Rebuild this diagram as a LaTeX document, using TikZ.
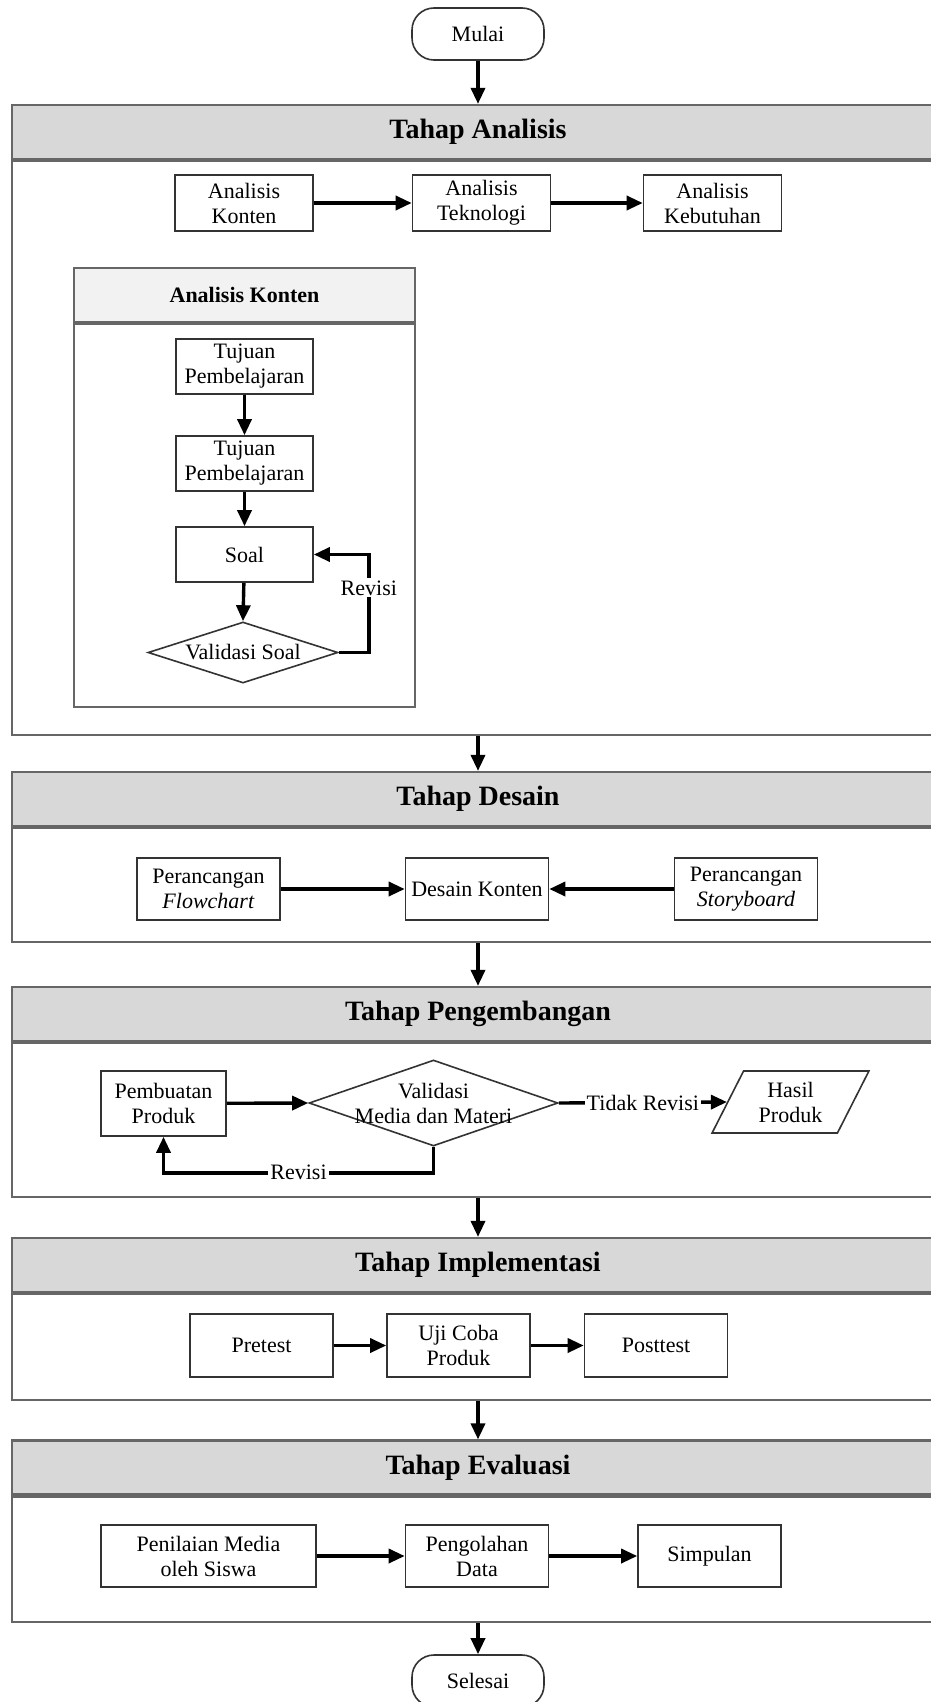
\documentclass[tikz,border=0pt]{standalone}
\usepackage{fontspec}
\setmainfont{Liberation Serif}
\usetikzlibrary{positioning,arrows.meta,shapes.geometric}
\definecolor{bingkai}{HTML}{666666}
\definecolor{judul}{HTML}{D8D8D8}
\definecolor{subjudul}{HTML}{F2F2F2}

\begin{document}
\begin{tikzpicture}[x=0.5pt,y=-0.5pt,font=\fontsize{11}{12.5}\selectfont,
  kotak/.style={draw=black!80,line width=0.8pt,fill=white,align=center,minimum width=69pt,minimum height=28pt,inner sep=1pt},
  ujung/.style={draw=black!80,line width=0.8pt,fill=white,rounded corners=11pt,minimum width=66pt,minimum height=26pt},
  belah/.style={diamond,draw=black!80,line width=0.8pt,fill=white,inner sep=0pt},
  hdr/.style={draw=bingkai,line width=1.1pt,fill=judul,minimum width=466pt,minimum height=27pt,font=\fontsize{14}{16}\selectfont\bfseries},
  badan/.style={draw=bingkai,line width=1.1pt,minimum width=466pt,anchor=north},
  ar/.style={-{Triangle[length=8pt,width=7pt]},line width=1.7pt},
  lbl/.style={fill=white,inner sep=1pt},
]
\useasboundingbox (0,0) rectangle (931,1702);
\clip (0,0) rectangle (931,1702);

\node[ujung] (mulai) at (478,34) {Mulai};

\node[hdr] (hdrA) at (478,132) {Tahap Analisis};
\node[badan,minimum height=287pt] (bodyA) at (hdrA.south) {};
\node[kotak] at (244,203)   (konten) {Analisis\\Konten};
\node[kotak] at (481.5,203) (tekno)  {Analisis\\Teknologi};
\node[kotak] at (712.5,203) (butuh)  {Analisis\\Kebutuhan};

\node[draw=bingkai,line width=0.9pt,fill=subjudul,minimum width=170.5pt,minimum height=27pt,font=\fontsize{11}{12.5}\selectfont\bfseries] at (244.5,295) (hdrK) {Analisis Konten};
\node[draw=bingkai,line width=0.9pt,minimum width=170.5pt,minimum height=191.5pt,anchor=north] at (hdrK.south) (bodyK) {};
\node[kotak,minimum width=68.5pt,minimum height=27.5pt] at (244.5,366.5) (tuj1) {Tujuan\\Pembelajaran};
\node[kotak,minimum width=68.5pt,minimum height=27.5pt] at (244.5,463.5) (tuj2) {Tujuan\\Pembelajaran};
\node[kotak,minimum width=68.5pt,minimum height=27.5pt] at (244.5,554.5) (soal) {Soal};
\node[belah,minimum width=95pt,minimum height=30.5pt,label=center:{Validasi Soal}] at (243,652.5) (valsoal) {};

\node[hdr] (hdrD) at (478,799) {Tahap Desain};
\node[badan,minimum height=57pt] (bodyD) at (hdrD.south) {};
\node[kotak,minimum width=71.5pt,minimum height=31pt] at (208.5,889) (flow)   {Perancangan\\\textit{Flowchart}};
\node[kotak,minimum width=71.5pt,minimum height=31pt] at (477,889)   (deskon) {Desain Konten};
\node[kotak,minimum width=71.5pt,minimum height=31pt] at (746,889)   (story)  {Perancangan\\\textit{Storyboard}};

\node[hdr] (hdrP) at (478,1014) {Tahap Pengembangan};
\node[badan,minimum height=77pt] (bodyP) at (hdrP.south) {};
\node[kotak,minimum width=62.5pt,minimum height=32.5pt] at (163.5,1103.5) (buat) {Pembuatan\\Produk};
\node[belah,minimum width=124.5pt,minimum height=43pt,label={[align=center]center:Validasi\\Media dan Materi}] at (433.5,1103) (valmed) {};
\node[trapezium,trapezium left angle=63,trapezium right angle=117,trapezium stretches=true,draw=black!80,line width=0.8pt,align=center,minimum width=78.5pt,minimum height=31pt,inner sep=1pt] at (790.5,1102) (hasil) {Hasil\\Produk};

\node[hdr] (hdrI) at (478,1265) {Tahap Implementasi};
\node[badan,minimum height=53pt] (bodyI) at (hdrI.south) {};
\node[kotak,minimum width=71.5pt,minimum height=31.5pt] at (261.5,1345.5) (pre)  {Pretest};
\node[kotak,minimum width=71.5pt,minimum height=31.5pt] at (458.5,1345.5) (uji)  {Uji Coba\\Produk};
\node[kotak,minimum width=71.5pt,minimum height=31.5pt] at (656,1345.5)   (post) {Posttest};

\node[hdr] (hdrE) at (478,1467.5) {Tahap Evaluasi};
\node[badan,minimum height=62.5pt] (bodyE) at (hdrE.south) {};
\node[kotak,minimum width=107.5pt,minimum height=31pt] at (208.5,1556) (nilai)  {Penilaian Media\\oleh Siswa};
\node[kotak,minimum width=71.5pt,minimum height=31pt]  at (477,1556)   (olah)   {Pengolahan\\Data};
\node[kotak,minimum width=71.5pt,minimum height=31pt]  at (709.5,1556) (simpul) {Simpulan};

\node[ujung] (selesai) at (478,1681) {Selesai};

\draw[ar] (mulai.south) -- (hdrA.north);
\draw[ar] (konten) -- (tekno);
\draw[ar] (tekno) -- (butuh);
\draw[ar] (tuj1) -- (tuj2);
\draw[ar] (tuj2) -- (soal);
\draw[ar] (soal) -- (valsoal.north);
\draw[ar] (valsoal.east) -- ++(30,0) |- node[lbl,pos=0.33]{Revisi} (soal.east);
\draw[ar] (bodyA.south) -- (hdrD.north);
\draw[ar] (flow) -- (deskon);
\draw[ar] (story) -- (deskon);
\draw[ar] (bodyD.south) -- (hdrP.north);
\draw[ar] (buat) -- (valmed.west);
\draw[ar] (valmed.east) -- node[lbl]{Tidak Revisi} (hasil.left side);
\draw[ar] (valmed.south) -- ++(0,26) -| node[lbl,pos=0.25]{Revisi} (buat.south);
\draw[ar] (bodyP.south) -- (hdrI.north);
\draw[ar] (pre) -- (uji);
\draw[ar] (uji) -- (post);
\draw[ar] (bodyI.south) -- (hdrE.north);
\draw[ar] (nilai) -- (olah);
\draw[ar] (olah) -- (simpul);
\draw[ar] (bodyE.south) -- (selesai.north);
\end{tikzpicture}
\end{document}
